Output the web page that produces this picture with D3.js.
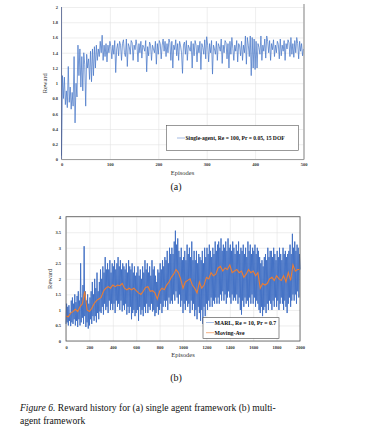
<!DOCTYPE html>
<html>
<head>
<meta charset="utf-8">
<script src="https://cdn.jsdelivr.net/npm/d3@7"></script>
<style>
  body { margin: 0; background: #fff; }
  svg { font-family: "Liberation Serif", "Times New Roman", serif; }
</style>
</head>
<body>
<div id="chart"></div>
<script>
// Panel (a): single agent reward, one value every 2 episodes
const singleStep = 2;
const singleReward = [
  0.05,1.1,0.8,1.08,0.72,0.9,0.68,1.22,0.75,0.95,
  0.66,0.88,0.7,1.35,0.48,1.0,0.82,1.5,1.1,1.45,
  0.95,1.35,0.9,1.4,1.25,0.7,1.38,1.2,1.32,1.05,
  1.42,1.02,1.45,1.1,1.48,1.2,1.5,1.3,1.45,1.35,
  1.55,1.4,1.63,1.3,1.5,1.35,1.52,1.28,1.5,1.4,
  1.55,1.48,1.32,1.5,1.38,1.56,1.14,1.45,1.52,1.36,
  1.55,1.5,1.3,1.52,1.57,1.4,1.35,1.58,1.22,1.52,
  1.48,1.38,1.56,1.53,1.3,1.5,1.44,1.57,1.49,1.28,
  1.52,1.4,1.55,1.33,1.5,1.47,1.42,1.56,1.15,1.48,
  1.36,1.54,1.5,1.3,1.5,1.45,1.4,1.55,1.25,1.52,
  1.38,1.56,1.52,1.32,1.5,1.58,1.42,1.55,1.35,1.52,
  1.4,1.58,1.53,1.3,1.55,1.2,1.5,1.44,1.57,1.36,
  1.52,1.3,1.55,1.49,1.4,1.13,1.5,1.54,1.38,1.56,
  1.3,1.5,1.46,1.42,1.55,1.2,1.52,1.36,1.56,1.5,
  1.28,1.5,1.4,1.55,1.18,1.52,1.47,1.38,1.57,1.32,
  1.61,1.5,1.28,1.52,1.4,1.56,1.12,1.5,1.45,1.38,
  1.55,1.3,1.52,1.48,1.42,1.58,1.26,1.5,1.4,1.56,
  1.53,1.32,1.52,1.2,1.55,1.38,1.6,1.46,1.3,1.5,
  1.42,1.56,1.28,1.52,1.49,1.36,1.55,1.3,1.5,1.4,
  1.62,1.25,1.6,1.5,1.35,1.62,1.1,1.6,1.2,1.58,
  1.18,1.55,1.2,1.52,1.47,1.38,1.62,1.3,1.5,1.42,
  1.58,1.33,1.62,1.55,1.4,1.56,1.3,1.52,1.44,1.57,
  1.35,1.5,1.4,1.55,1.51,1.32,1.58,1.36,1.5,1.42,
  1.56,1.3,1.52,1.45,1.57,1.53,1.35,1.6,1.38,1.52,
  1.34,1.56,1.4,1.6,1.52,1.32,1.55,1.42,1.52,1.36,
  1.45
];

// Panel (b): MARL reward, one value every 5 episodes
const marlStep = 5;
const marlReward = [
  0.55,1.2,0.6,1.1,0.5,1.15,0.65,0.9,0.48,1.3,
  0.6,1.4,0.55,1.2,0.7,1.5,0.5,1.25,0.65,1.45,
  0.45,1.6,0.7,1.3,0.5,2.5,0.6,1.4,0.75,1.8,
  0.55,3.05,0.8,1.6,0.45,1.3,0.6,1.5,0.4,1.2,
  0.5,1.4,0.7,1.6,0.55,1.9,0.8,1.5,0.65,2.0,
  0.8,1.7,0.6,2.2,0.9,1.6,0.7,1.9,0.95,2.3,
  0.9,2.0,1.1,2.4,0.85,2.2,1.2,2.7,1.0,2.3,
  1.1,2.5,0.9,2.3,1.3,2.6,1.0,2.2,1.2,2.5,
  1.0,2.4,1.2,2.6,0.9,2.3,1.3,2.5,1.1,2.7,
  1.2,2.4,1.0,2.6,1.3,2.3,0.95,2.5,1.15,2.4,
  1.0,2.3,1.2,2.5,0.85,2.2,1.1,2.6,0.9,2.4,
  1.1,2.3,0.7,2.5,0.9,2.2,1.0,2.4,0.8,2.1,
  0.9,2.2,1.0,2.4,0.65,2.1,1.1,2.3,0.85,2.0,
  1.0,2.4,0.8,2.2,1.1,2.6,0.9,2.3,1.2,2.5,
  0.9,2.2,1.1,2.4,1.0,2.1,1.2,2.6,0.95,2.3,
  1.0,2.4,0.8,2.1,0.9,1.9,1.1,2.3,0.85,2.2,
  1.0,2.5,1.2,2.3,0.9,2.6,1.1,2.4,1.3,2.7,
  1.1,2.6,1.3,2.9,1.0,2.5,1.4,3.0,1.2,2.8,
  1.3,3.0,1.2,2.8,1.5,3.2,1.3,3.55,1.6,3.1,
  1.4,3.3,1.2,2.9,1.5,2.7,1.1,3.0,1.3,2.6,
  0.9,2.7,1.2,2.9,1.0,2.6,1.3,3.1,1.1,2.8,
  1.2,3.0,0.9,2.7,1.3,3.2,1.0,2.6,1.2,2.9,
  0.8,2.6,1.0,2.9,0.7,2.5,1.1,2.8,0.9,2.7,
  0.65,2.6,1.0,2.9,0.55,2.5,1.1,3.0,0.8,2.7,
  1.2,3.0,1.0,2.8,1.3,3.1,1.1,2.9,1.4,2.7,
  1.1,3.0,1.3,2.8,1.2,3.2,1.4,2.9,1.2,3.1,
  1.4,3.2,1.2,3.0,1.5,3.3,1.3,2.9,1.6,3.1,
  1.3,3.0,1.5,3.2,1.2,2.9,1.4,3.3,1.6,3.0,
  1.4,3.1,1.2,2.9,1.5,3.2,1.3,3.0,1.4,2.8,
  1.3,3.1,1.5,2.9,1.2,3.2,1.4,2.8,1.0,3.0,
  0.85,2.9,1.3,3.1,1.1,2.8,1.4,3.0,1.2,2.7,
  1.3,3.2,1.1,2.9,1.4,3.1,1.2,2.8,1.5,3.0,
  1.2,2.9,1.4,3.1,1.1,2.8,1.3,3.0,1.2,2.9,
  1.0,2.7,0.9,2.5,1.1,2.6,0.8,2.4,1.0,2.7,
  1.1,2.8,0.9,2.6,1.2,3.0,1.0,2.7,1.3,2.9,
  1.2,2.9,1.0,2.7,1.3,3.0,1.1,2.8,1.4,2.6,
  1.1,2.9,1.3,2.7,1.0,3.0,1.2,2.8,1.4,2.6,
  1.2,3.0,1.0,2.8,1.3,2.9,1.1,2.7,0.9,2.8,
  1.2,2.9,1.4,3.1,1.1,2.8,1.3,3.45,1.5,3.0,
  1.3,3.2,1.5,2.9,1.2,3.1,1.6,3.0,1.4,2.8,
  2.3
];

// Moving average, one value every 20 episodes
const maStep = 20;
const movingAve = [
  0.8,0.78,0.9,0.95,1.02,0.95,1.1,1.2,1.6,1.0,
  0.95,1.05,1.2,1.3,1.35,1.4,1.6,1.7,1.75,1.7,
  1.8,1.75,1.8,1.78,1.85,1.7,1.65,1.7,1.65,1.7,
  1.62,1.55,1.5,1.6,1.72,1.75,1.6,1.62,1.55,1.35,
  1.6,1.7,1.65,1.8,1.9,2.05,2.15,2.3,2.2,2.0,
  1.7,1.9,1.95,2.0,1.8,1.7,1.55,1.9,1.7,1.8,
  2.05,2.0,2.2,2.1,2.15,2.35,2.4,2.25,2.35,2.3,
  2.45,2.2,2.25,2.3,2.2,2.25,2.05,2.15,2.3,2.2,
  2.25,2.1,2.2,1.7,1.85,1.8,1.85,2.0,2.05,1.95,
  2.1,2.0,1.95,2.1,1.9,2.2,1.95,2.45,2.25,2.3,
  2.3
];

const singleTicksY = [0, 0.2, 0.4, 0.6, 0.8, 1, 1.2, 1.4, 1.6, 1.8, 2];
const singleTicksX = [0, 100, 200, 300, 400, 500];
const marlTicksY = [0, 0.5, 1, 1.5, 2, 2.5, 3, 3.5, 4];
const marlTicksX = [0, 200, 400, 600, 800, 1000, 1200, 1400, 1600, 1800, 2000];

const svg = d3.select("#chart").append("svg")
  .attr("width", 376)
  .attr("height", 445);

svg.append("rect").attr("width", 376).attr("height", 445).attr("fill", "#fff");

// draws one panel, returns scales
function drawPanel(opt) {
  const x = d3.scaleLinear().domain(opt.xDomain).range([opt.left, opt.right]);
  const y = d3.scaleLinear().domain(opt.yDomain).range([opt.bottom, opt.top]);
  const g = svg.append("g");

  // grid
  g.append("g")
    .attr("transform", `translate(0,${opt.bottom})`)
    .call(d3.axisBottom(x).tickValues(opt.xTicks).tickSize(-(opt.bottom - opt.top)).tickFormat(""))
    .call(a => a.select(".domain").remove())
    .selectAll("line").attr("stroke", "#e3e3e3").attr("stroke-width", 0.6);
  g.append("g")
    .attr("transform", `translate(${opt.left},0)`)
    .call(d3.axisLeft(y).tickValues(opt.yTicks).tickSize(-(opt.right - opt.left)).tickFormat(""))
    .call(a => a.select(".domain").remove())
    .selectAll("line").attr("stroke", "#e3e3e3").attr("stroke-width", 0.6);

  // tick labels
  const xa = g.append("g")
    .attr("transform", `translate(0,${opt.bottom})`)
    .call(d3.axisBottom(x).tickValues(opt.xTicks).tickSize(0).tickPadding(opt.xPad).tickFormat(d3.format("")));
  xa.select(".domain").remove();
  xa.selectAll("text").attr("font-size", 4.5).attr("font-weight", "bold").attr("fill", "#333")
    .attr("font-family", "Liberation Serif");

  const ya = g.append("g")
    .attr("transform", `translate(${opt.left},0)`)
    .call(d3.axisLeft(y).tickValues(opt.yTicks).tickSize(0).tickPadding(opt.yPad).tickFormat(d3.format("")));
  ya.select(".domain").remove();
  ya.selectAll("text").attr("font-size", 4.5).attr("font-weight", "bold").attr("fill", "#333")
    .attr("font-family", "Liberation Serif");

  // axis titles
  g.append("text")
    .attr("transform", `translate(${opt.yTitleX},${(opt.top + opt.bottom) / 2}) rotate(-90)`)
    .attr("text-anchor", "middle")
    .attr("font-size", 6.5).attr("fill", "#333")
    .text("Reward");
  g.append("text")
    .attr("x", (opt.left + opt.right) / 2).attr("y", opt.xTitleY)
    .attr("text-anchor", "middle")
    .attr("font-size", 6.5).attr("fill", "#333")
    .text("Episodes");

  return { x, y, g };
}

// ---- panel (a)
const pa = drawPanel({
  left: 61.5, right: 303.5, top: 7, bottom: 159.5,
  xDomain: [0, 500], yDomain: [0, 2],
  xTicks: singleTicksX, yTicks: singleTicksY,
  xPad: 3.5, yPad: 3.5, yTitleX: 47, xTitleY: 175
});

const lineA = d3.line()
  .x((d, i) => pa.x(i * singleStep))
  .y(d => pa.y(d));

pa.g.append("path")
  .datum(singleReward)
  .attr("fill", "none")
  .attr("stroke", "#4a78c8")
  .attr("stroke-width", 0.75)
  .attr("d", lineA);

// frame: left dark, bottom and right grey
pa.g.append("line").attr("x1", 61.5).attr("x2", 61.5).attr("y1", 7).attr("y2", 159.5)
  .attr("stroke", "#4a5a8a").attr("stroke-width", 0.8);
pa.g.append("line").attr("x1", 61.5).attr("x2", 304).attr("y1", 159.5).attr("y2", 159.5)
  .attr("stroke", "#888").attr("stroke-width", 0.8);
pa.g.append("line").attr("x1", 304).attr("x2", 304).attr("y1", 4).attr("y2", 159.5)
  .attr("stroke", "#999").attr("stroke-width", 1.2);

// legend (a)
const legA = pa.g.append("g");
legA.append("rect").attr("x", 166.5).attr("y", 125.5).attr("width", 132).attr("height", 25)
  .attr("fill", "#fff").attr("stroke", "#555").attr("stroke-width", 0.6);
legA.append("line").attr("x1", 177).attr("x2", 185).attr("y1", 138).attr("y2", 138)
  .attr("stroke", "#8eaadc").attr("stroke-width", 0.8);
legA.append("text").attr("x", 185.5).attr("y", 140).attr("font-size", 5.6).attr("fill", "#111")
  .attr("font-weight", "bold")
  .text("Single-agent, Re = 100, Pr = 0.05, 15 DOF");

// ---- panel (b)
const pb = drawPanel({
  left: 66, right: 300, top: 216.7, bottom: 341,
  xDomain: [0, 2000], yDomain: [0, 4],
  xTicks: marlTicksX, yTicks: marlTicksY,
  xPad: 5, yPad: 5, yTitleX: 52, xTitleY: 357
});

const lineB = d3.line()
  .x((d, i) => pb.x(i * marlStep))
  .y(d => pb.y(d));

pb.g.append("path")
  .datum(marlReward)
  .attr("fill", "none")
  .attr("stroke", "#4170c4")
  .attr("stroke-width", 0.95)
  .attr("d", lineB);

const lineMA = d3.line()
  .x((d, i) => pb.x(i * maStep))
  .y(d => pb.y(d));

pb.g.append("path")
  .datum(movingAve)
  .attr("fill", "none")
  .attr("stroke", "#ed7d31")
  .attr("stroke-width", 1.1)
  .attr("d", lineMA);

pb.g.append("rect").attr("x", 66).attr("y", 216.7).attr("width", 234).attr("height", 124.3)
  .attr("fill", "none").attr("stroke", "#555").attr("stroke-width", 0.8);

// legend (b)
const legB = pb.g.append("g");
legB.append("rect").attr("x", 203).attr("y", 317.7).attr("width", 76).attr("height", 20.6)
  .attr("fill", "#fff").attr("stroke", "#444").attr("stroke-width", 0.6);
legB.append("line").attr("x1", 206).attr("x2", 214).attr("y1", 322.5).attr("y2", 322.5)
  .attr("stroke", "#a9bfe6").attr("stroke-width", 1);
legB.append("text").attr("x", 214.5).attr("y", 324.5).attr("font-size", 5.8).attr("fill", "#111")
  .attr("font-weight", "bold")
  .text("MARL, Re = 10, Pr = 0.7");
legB.append("line").attr("x1", 206).attr("x2", 214).attr("y1", 332.7).attr("y2", 332.7)
  .attr("stroke", "#f4b183").attr("stroke-width", 1);
legB.append("text").attr("x", 214.5).attr("y", 334.7).attr("font-size", 5.8).attr("fill", "#111")
  .attr("font-weight", "bold")
  .text("Moving-Ave");

// captions
svg.append("text").attr("x", 176).attr("y", 190).attr("text-anchor", "middle")
  .attr("font-size", 10).attr("fill", "#111").text("(a)");
svg.append("text").attr("x", 176).attr("y", 381).attr("text-anchor", "middle")
  .attr("font-size", 10).attr("fill", "#111").text("(b)");

const cap = svg.append("text").attr("x", 20).attr("y", 411).attr("font-size", 9.6).attr("fill", "#111");
cap.append("tspan").attr("font-style", "italic").text("Figure 6.");
cap.append("tspan").text(" Reward history for (a) single agent framework (b) multi-");
svg.append("text").attr("x", 20).attr("y", 424).attr("font-size", 9.6).attr("fill", "#111")
  .text("agent framework");
</script>
</body>
</html>
